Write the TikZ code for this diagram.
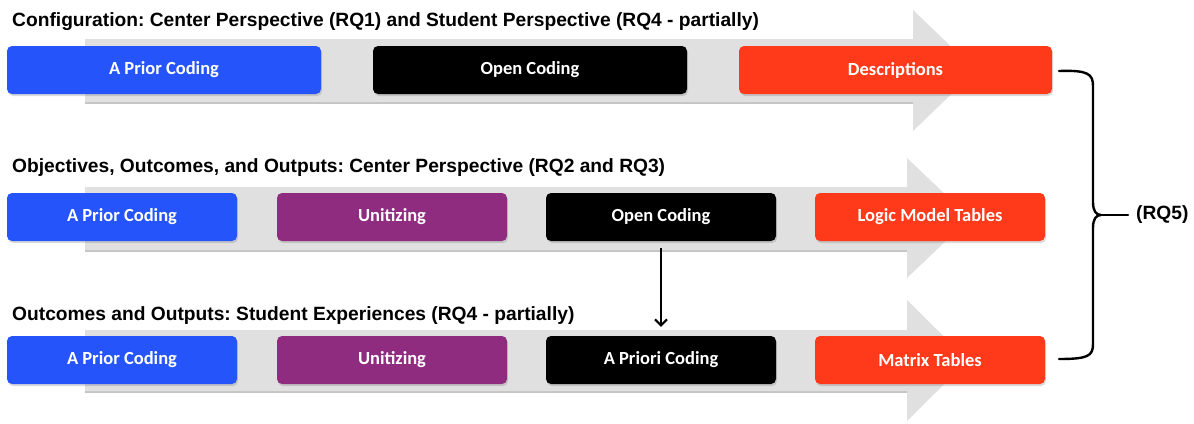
\documentclass[tikz,border=0pt]{standalone}
\usepackage{fontspec}
\setmainfont{Liberation Sans}
\newfontfamily\boxfont{Carlito}
\usetikzlibrary{arrows.meta,shadows}
\frenchspacing

\definecolor{stageblue}{RGB}{36,84,250}
\definecolor{stagepurple}{RGB}{144,44,128}
\definecolor{stagered}{RGB}{255,58,26}
\definecolor{flowgray}{RGB}{224,224,224}
\definecolor{flowedge}{RGB}{196,196,196}

\tikzset{
  stagebox/.style={rounded corners=5pt, minimum height=48pt, text=white,
    inner sep=0pt, font=\boxfont\bfseries\fontsize{18.5}{20}\selectfont,
    drop shadow={opacity=0.3, shadow xshift=1pt, shadow yshift=-2pt}},
  bluebox/.style={stagebox, fill=stageblue},
  purplebox/.style={stagebox, fill=stagepurple},
  blackbox/.style={stagebox, fill=black},
  redbox/.style={stagebox, fill=stagered},
  titlefont/.style={font=\bfseries\fontsize{19.2}{22}\selectfont},
  rowtitle/.style={titlefont, anchor=base west, inner sep=0pt},
  flow/.style={fill=flowgray},
  flowshade/.style={draw=flowedge, line width=1.5pt},
  link/.style={line width=2pt, -{Straight Barb[length=6pt,width=12pt,line width=2pt]}},
  bracket/.style={line width=2.4pt, line cap=round, line join=round},
}

\begin{document}
\begin{tikzpicture}[x=1pt,y=-1pt]
\useasboundingbox (0,0) rectangle (1194,423);

% wide grey process arrows behind each row
\draw[flowshade] (85,103) -- (913,103);
\fill[flow] (85,39) -- (913,39) -- (913,10) -- (976,70.5) -- (913,131) -- (913,102) -- (85,102) -- cycle;
\draw[flowshade] (85,251) -- (907,251);
\fill[flow] (85,187) -- (907,187) -- (907,158) -- (970,218) -- (907,278) -- (907,250) -- (85,250) -- cycle;
\draw[flowshade] (85,392) -- (907,392);
\fill[flow] (85,330) -- (907,330) -- (907,300) -- (968,360.5) -- (907,421) -- (907,391) -- (85,391) -- cycle;

% row titles
\node[rowtitle] (t1) at (12,26) {Configuration: Center Perspective (RQ1) and Student Perspective (RQ4 - partially)};
\node[rowtitle] (t2) at (12,172) {Objectives, Outcomes, and Outputs: Center Perspective (RQ2 and RQ3)};
\node[rowtitle] (t3) at (12,320) {Outcomes and Outputs: Student Experiences (RQ4 - partially)};

% row 1
\node[bluebox, minimum width=314pt]  (a1) at (164,70)   {A Prior Coding};
\node[blackbox, minimum width=314pt] (o1) at (530,70)   {Open Coding};
\node[redbox, minimum width=313pt]   (d1) at (895.5,70) {Descriptions};

% row 2
\node[bluebox, minimum width=230pt]   (a2) at (122,217) {A Prior Coding};
\node[purplebox, minimum width=230pt] (u2) at (392,217) {Unitizing};
\node[blackbox, minimum width=230pt]  (o2) at (661,217) {Open Coding};
\node[redbox, minimum width=230pt]    (l2) at (930,217) {Logic Model Tables};

% row 3
\node[bluebox, minimum width=230pt]   (a3) at (122,360) {A Prior Coding};
\node[purplebox, minimum width=230pt] (u3) at (392,360) {Unitizing};
\node[blackbox, minimum width=230pt]  (p3) at (661,360) {A Priori Coding};
\node[redbox, minimum width=230pt]    (m3) at (930,360) {Matrix Tables};

% open coding feeds the a-priori coding step
\draw[link, shorten <=7pt, shorten >=9pt] (o2.south) -- (p3.north);

% brace gathering the three rows
\coordinate (btop) at (1059,71);
\coordinate (bbot) at (1059,359);
\coordinate (bcusp) at (1101,215);
\node[titlefont, anchor=west, inner sep=0pt] (rq5) at (1136,215) {(RQ5)};
\draw[bracket] (btop) .. controls (1088,70) and (1093,74) .. (1093,86)
  -- (1093,202) .. controls (1093,211) and (1096,215) .. (bcusp)
  .. controls (1096,215) and (1093,219) .. (1093,228)
  -- (1093,344) .. controls (1093,356) and (1088,359) .. (bbot);
\draw[bracket] (bcusp) -- (rq5.west -| 1128,0);
\end{tikzpicture}
\end{document}
